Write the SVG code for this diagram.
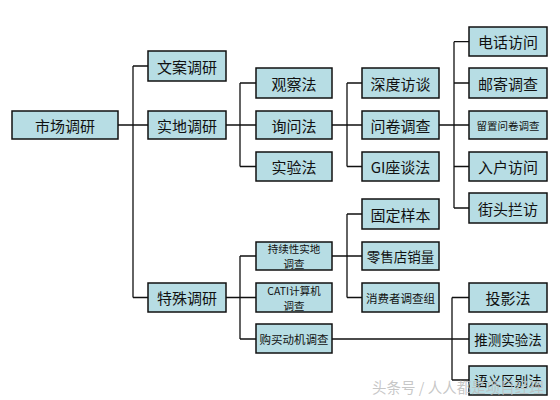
<svg xmlns="http://www.w3.org/2000/svg" width="560" height="400" viewBox="0 0 560 400">
<style>
.b{fill:#b7dde4;stroke:#111;stroke-width:1.5}
.t{font-family:"Noto Sans CJK SC","Liberation Serif",serif;font-size:15px;fill:#111;text-anchor:middle;dominant-baseline:central}
.m{font-size:13.5px}
.s{font-size:11.5px}
.l{font-size:10.5px}
.xs{font-size:10.5px}
.c{fill:none;stroke:#111;stroke-width:1.3}
.w{font-family:"Noto Sans CJK SC","Liberation Sans",sans-serif;font-size:14.5px;fill:#bdbdbd;fill-opacity:0.85}
</style>
<rect width="560" height="400" fill="#fff"/>
<g id="connectors" class="c">
<path d="M118 125H148M133 66V297.5M133 66H148M133 297.5H148"/>
<path d="M226 125H256M240 83V166.5M240 83H256M240 166.5H256"/>
<path d="M332 125H362M347 83V166.5M347 83H362M347 166.5H362"/>
<path d="M439 125H469M454 41.7V208M454 41.7H469M454 83H469M454 166.5H469M454 208H469"/>
<path d="M226 297.5H256M240 256V339M240 256H256M240 339H256"/>
<path d="M332 256H362M347 214V297.5M347 214H362M347 297.5H362"/>
<path d="M332 339H469M452 297.5V380M452 297.5H469M452 380H469"/>
</g>
<g id="n_root"><rect class="b" x="12" y="111" width="106" height="28"/><text class="t" x="65" y="125">市场调研</text></g>
<g id="n_wenan"><rect class="b" x="148" y="51" width="78" height="30"/><text class="t" x="187" y="66">文案调研</text></g>
<g id="n_shidi"><rect class="b" x="148" y="111" width="78" height="28"/><text class="t" x="187" y="125">实地调研</text></g>
<g id="n_teshu"><rect class="b" x="148" y="283" width="78" height="29"/><text class="t" x="187" y="297.5">特殊调研</text></g>
<g id="n_guancha"><rect class="b" x="256" y="68" width="76" height="30"/><text class="t" x="294" y="83">观察法</text></g>
<g id="n_xunwen"><rect class="b" x="256" y="111" width="76" height="28"/><text class="t" x="294" y="125">询问法</text></g>
<g id="n_shiyan"><rect class="b" x="256" y="152" width="76" height="29"/><text class="t" x="294" y="166.5">实验法</text></g>
<g id="n_shendu"><rect class="b" x="362" y="68" width="77" height="30"/><text class="t" x="400.5" y="83">深度访谈</text></g>
<g id="n_wenjuan"><rect class="b" x="362" y="111" width="77" height="28"/><text class="t" x="400.5" y="125">问卷调查</text></g>
<g id="n_gi"><rect class="b" x="362" y="152" width="77" height="29"/><text class="t" x="400.5" y="166.5">GI座谈法</text></g>
<g id="n_dianhua"><rect class="b" x="469" y="27" width="78" height="29"/><text class="t" x="508" y="41.7">电话访问</text></g>
<g id="n_youji"><rect class="b" x="469" y="68" width="78" height="30"/><text class="t" x="508" y="83">邮寄调查</text></g>
<g id="n_liuzhi"><rect class="b" x="469" y="111" width="78" height="28"/><text class="t xs" x="508" y="125">留置问卷调查</text></g>
<g id="n_ruhu"><rect class="b" x="469" y="152" width="78" height="29"/><text class="t" x="508" y="166.5">入户访问</text></g>
<g id="n_jietou"><rect class="b" x="469" y="193" width="78" height="30"/><text class="t" x="508" y="208">街头拦访</text></g>
<g id="n_chixu"><rect class="b" x="256" y="242" width="76" height="28"/><text class="t l" x="294" y="248.5">持续性实地</text><text class="t l" x="294" y="263.5">调查</text></g>
<g id="n_cati"><rect class="b" x="256" y="283" width="76" height="29"/><text class="t l" x="294" y="290">CATI计算机</text><text class="t l" x="294" y="305">调查</text></g>
<g id="n_goumai"><rect class="b" x="256" y="324" width="76" height="29"/><text class="t s" x="294" y="339">购买动机调查</text></g>
<g id="n_guding"><rect class="b" x="362" y="199" width="77" height="30"/><text class="t" x="400.5" y="214">固定样本</text></g>
<g id="n_lingshou"><rect class="b" x="362" y="242" width="77" height="28"/><text class="t m" x="400.5" y="256">零售店销量</text></g>
<g id="n_xiaofei"><rect class="b" x="362" y="283" width="77" height="29"/><text class="t s" x="400.5" y="297.5">消费者调查组</text></g>
<g id="n_touying"><rect class="b" x="469" y="283" width="78" height="29"/><text class="t" x="508" y="297.5">投影法</text></g>
<g id="n_tuice"><rect class="b" x="469" y="324" width="78" height="29"/><text class="t m" x="508" y="339">推测实验法</text></g>
<g id="n_yuyi"><rect class="b" x="469" y="366" width="78" height="29"/><text class="t m" x="508" y="380">语义区别法</text></g>
<text class="w" x="372" y="393">头条号 / 人人都是项目经理</text>
</svg>
